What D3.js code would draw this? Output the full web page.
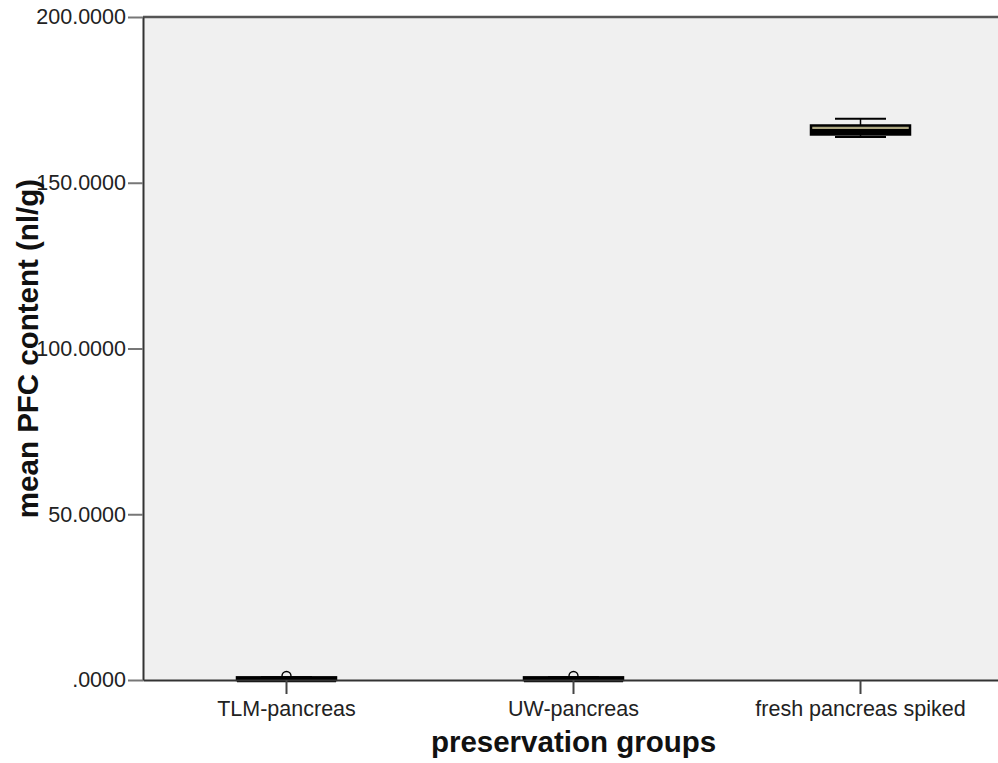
<!DOCTYPE html>
<html>
<head>
<meta charset="utf-8">
<script src="https://cdn.jsdelivr.net/npm/d3@7"></script>
<style>
  html, body { margin: 0; padding: 0; background: #ffffff; }
  svg { display: block; }
</style>
</head>
<body>
<svg id="chart" width="998" height="763"></svg>
<script>
// ---- data ----
const categories = ["TLM-pancreas", "UW-pancreas", "fresh pancreas spiked"];
const whiskerLow = [0, 0, 163.8];
const quartile1 = [0, 0, 164.56];
const medians = [0.1, 0.1, 165.46];
const quartile3 = [0.8, 0.8, 167.27];
const whiskerHigh = [0.8, 0.8, 169.29];
const outliers = [[1.2], [1.2], []];
const yTickValues = [0, 50, 100, 150, 200];
const xTitle = "preservation groups";
const yTitle = "mean PFC content (nl/g)";

// ---- layout ----
const svg = d3.select("#chart");
const plotLeft = 143, plotRight = 1004, plotTop = 17, plotBottom = 680;

const x = d3.scaleBand().domain(categories).range([plotLeft, plotRight]).padding(0);
const y = d3.scaleLinear().domain([0, 200]).range([plotBottom, plotTop]);

const fmt = v => d3.format(".4f")(v).replace(/^0\./, ".");

// plot background
svg.append("rect")
  .attr("x", plotLeft).attr("y", plotTop)
  .attr("width", plotRight - plotLeft).attr("height", plotBottom - plotTop)
  .attr("fill", "#f0f0f0");

// top border
svg.append("line")
  .attr("x1", plotLeft).attr("x2", plotRight)
  .attr("y1", plotTop).attr("y2", plotTop)
  .attr("stroke", "#555").attr("stroke-width", 2.5);

// boxes
const boxW = 99, capW = 51;
const data = categories.map((c, i) => ({
  c, lo: whiskerLow[i], q1: quartile1[i], med: medians[i],
  q3: quartile3[i], hi: whiskerHigh[i], out: outliers[i]
}));

const g = svg.append("g");
data.forEach(d => {
  const cx = x(d.c) + x.bandwidth() / 2;
  g.append("line").attr("x1", cx).attr("x2", cx)
    .attr("y1", y(d.q3)).attr("y2", y(d.hi))
    .attr("stroke", "#000").attr("stroke-width", 1.5);
  g.append("line").attr("x1", cx).attr("x2", cx)
    .attr("y1", y(d.q1)).attr("y2", y(d.lo))
    .attr("stroke", "#000").attr("stroke-width", 1.5);
  g.append("line").attr("x1", cx - capW / 2).attr("x2", cx + capW / 2)
    .attr("y1", y(d.hi)).attr("y2", y(d.hi))
    .attr("stroke", "#000").attr("stroke-width", 2);
  g.append("line").attr("x1", cx - capW / 2).attr("x2", cx + capW / 2)
    .attr("y1", y(d.lo)).attr("y2", y(d.lo))
    .attr("stroke", "#000").attr("stroke-width", 2);
  g.append("rect")
    .attr("x", cx - boxW / 2).attr("width", boxW)
    .attr("y", y(d.q3)).attr("height", Math.max(0, y(d.q1) - y(d.q3)))
    .attr("fill", "#aca680").attr("stroke", "#000").attr("stroke-width", 2.5);
  g.append("line").attr("x1", cx - boxW / 2).attr("x2", cx + boxW / 2)
    .attr("y1", y(d.med)).attr("y2", y(d.med))
    .attr("stroke", "#000").attr("stroke-width", 5);
  d.out.forEach(o => {
    g.append("circle").attr("cx", cx).attr("cy", y(o)).attr("r", 4.5)
      .attr("fill", "none").attr("stroke", "#000").attr("stroke-width", 1.4);
  });
});

// y axis
const yAxis = svg.append("g")
  .attr("transform", `translate(${plotLeft},0)`)
  .call(d3.axisLeft(y).tickValues(yTickValues).tickFormat(fmt).tickSize(15).tickPadding(2).tickSizeOuter(0));
yAxis.select(".domain").attr("stroke", "#333").attr("stroke-width", 2);
yAxis.selectAll(".tick line").attr("stroke", "#777").attr("stroke-width", 2);
yAxis.selectAll(".tick text")
  .attr("font-family", "'Liberation Sans', Arial, sans-serif")
  .attr("font-size", 21.5).attr("fill", "#222");

// x axis
const xAxis = svg.append("g")
  .attr("transform", `translate(0,${plotBottom})`)
  .call(d3.axisBottom(x).tickSize(14).tickPadding(7).tickSizeOuter(0));
xAxis.select(".domain").attr("stroke", "#333").attr("stroke-width", 2);
xAxis.selectAll(".tick line").attr("stroke", "#444").attr("stroke-width", 2);
xAxis.selectAll(".tick text")
  .attr("font-family", "'Liberation Sans', Arial, sans-serif")
  .attr("font-size", 21.5).attr("fill", "#222");

// titles
svg.append("text")
  .attr("x", (plotLeft + plotRight) / 2).attr("y", 752)
  .attr("text-anchor", "middle")
  .attr("font-family", "'Liberation Sans', Arial, sans-serif")
  .attr("font-weight", "bold").attr("font-size", 29.5).attr("fill", "#111")
  .text(xTitle);

svg.append("text")
  .attr("transform", `translate(38,${(plotTop + plotBottom) / 2}) rotate(-90)`)
  .attr("text-anchor", "middle")
  .attr("font-family", "'Liberation Sans', Arial, sans-serif")
  .attr("font-weight", "bold").attr("font-size", 29.5).attr("fill", "#111")
  .text(yTitle);
</script>
</body>
</html>
